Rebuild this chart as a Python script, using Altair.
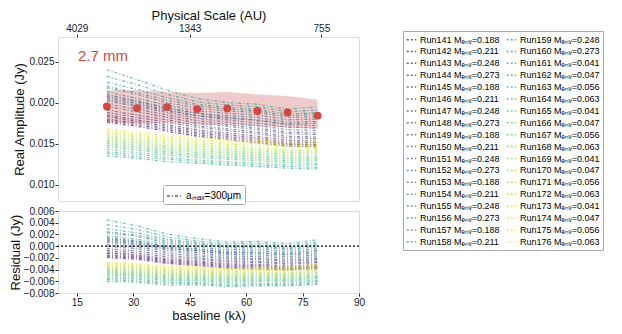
import altair as alt
import numpy as np
import pandas as pd

# ---------------- data ----------------
baseline = [23, 31, 39, 47, 55, 63, 71, 79]              # k-lambda
obs_amp = [0.01953, 0.01933, 0.01945, 0.01921, 0.01929, 0.01898, 0.01879, 0.01841]
band_hi = [0.02150, 0.02150, 0.02130, 0.02118, 0.02128, 0.02100, 0.02080, 0.02035]
band_lo = [0.01757, 0.01745, 0.01750, 0.01730, 0.01728, 0.01712, 0.01695, 0.01680]

runs = list(range(141, 177))
menv = (["0.188", "0.211", "0.248", "0.273"] * 5) + (["0.041", "0.047", "0.056", "0.063"] * 4)

model = {
    141: [0.0176, 0.0171, 0.0165, 0.0159, 0.0155, 0.0151, 0.0147, 0.0146],
    142: [0.0178, 0.0173, 0.0167, 0.0161, 0.0157, 0.0153, 0.0149, 0.0148],
    143: [0.0180, 0.0175, 0.0169, 0.0163, 0.0159, 0.0155, 0.0150, 0.0149],
    144: [0.0183, 0.0177, 0.0171, 0.0165, 0.0161, 0.0157, 0.0152, 0.0151],
    145: [0.0185, 0.0179, 0.0173, 0.0167, 0.0163, 0.0159, 0.0154, 0.0153],
    146: [0.0188, 0.0182, 0.0176, 0.0170, 0.0166, 0.0162, 0.0157, 0.0156],
    147: [0.0191, 0.0185, 0.0179, 0.0172, 0.0168, 0.0164, 0.0159, 0.0158],
    148: [0.0195, 0.0189, 0.0182, 0.0175, 0.0171, 0.0167, 0.0162, 0.0161],
    149: [0.0198, 0.0192, 0.0185, 0.0178, 0.0173, 0.0169, 0.0164, 0.0163],
    150: [0.0202, 0.0195, 0.0188, 0.0181, 0.0176, 0.0172, 0.0167, 0.0166],
    151: [0.0206, 0.0199, 0.0191, 0.0184, 0.0179, 0.0175, 0.0170, 0.0169],
    152: [0.0210, 0.0202, 0.0194, 0.0187, 0.0182, 0.0178, 0.0173, 0.0172],
    153: [0.0204, 0.0197, 0.0190, 0.0184, 0.0181, 0.0179, 0.0174, 0.0175],
    154: [0.0208, 0.0201, 0.0193, 0.0187, 0.0184, 0.0182, 0.0176, 0.0177],
    155: [0.0213, 0.0205, 0.0197, 0.0190, 0.0187, 0.0185, 0.0179, 0.0180],
    156: [0.0218, 0.0210, 0.0200, 0.0193, 0.0190, 0.0188, 0.0182, 0.0183],
    157: [0.0220, 0.0212, 0.0203, 0.0196, 0.0192, 0.0190, 0.0184, 0.0186],
    158: [0.0225, 0.0216, 0.0206, 0.0198, 0.0194, 0.0192, 0.0186, 0.0188],
    159: [0.0232, 0.0222, 0.0210, 0.0201, 0.0197, 0.0195, 0.0189, 0.0191],
    160: [0.0240, 0.0228, 0.0215, 0.0205, 0.0200, 0.0198, 0.0192, 0.0195],
    161: [0.0135, 0.0132, 0.0128, 0.0126, 0.0124, 0.0122, 0.0120, 0.0119],
    162: [0.0138, 0.0134, 0.0131, 0.0128, 0.0126, 0.0124, 0.0122, 0.0121],
    163: [0.0140, 0.0137, 0.0133, 0.0130, 0.0128, 0.0126, 0.0124, 0.0124],
    164: [0.0143, 0.0139, 0.0136, 0.0133, 0.0131, 0.0129, 0.0127, 0.0126],
    165: [0.0146, 0.0142, 0.0138, 0.0135, 0.0133, 0.0131, 0.0129, 0.0129],
    166: [0.0148, 0.0144, 0.0140, 0.0137, 0.0135, 0.0133, 0.0131, 0.0131],
    167: [0.0150, 0.0146, 0.0142, 0.0139, 0.0137, 0.0135, 0.0133, 0.0133],
    168: [0.0152, 0.0148, 0.0144, 0.0141, 0.0139, 0.0137, 0.0135, 0.0135],
    169: [0.0154, 0.0150, 0.0146, 0.0143, 0.0141, 0.0139, 0.0137, 0.0138],
    170: [0.0156, 0.0152, 0.0148, 0.0145, 0.0143, 0.0141, 0.0139, 0.0140],
    171: [0.0158, 0.0154, 0.0150, 0.0147, 0.0145, 0.0143, 0.0141, 0.0142],
    172: [0.0160, 0.0156, 0.0152, 0.0149, 0.0147, 0.0145, 0.0143, 0.0144],
    173: [0.0162, 0.0158, 0.0154, 0.0151, 0.0149, 0.0148, 0.0146, 0.0147],
    174: [0.0164, 0.0160, 0.0156, 0.0153, 0.0151, 0.0150, 0.0148, 0.0149],
    175: [0.0166, 0.0162, 0.0158, 0.0155, 0.0153, 0.0152, 0.0150, 0.0151],
    176: [0.0168, 0.0164, 0.0160, 0.0157, 0.0155, 0.0154, 0.0152, 0.0153],
}

top_tick_kl = [15, 45, 80]
top_tick_au = ["4029", "1343", "755"]
x_ticks = [15, 30, 45, 60, 75, 90]
y_ticks_top = [0.010, 0.015, 0.020, 0.025]
y_ticks_res = [-0.008, -0.006, -0.004, -0.002, 0.000, 0.002, 0.004, 0.006]
band_label = ["2.7 mm"]
band_label_pos = [15.3, 0.0257]
amax_label = "a\u2098\u2090\u2093=300\u03bcm"

# ---------------- styling helpers ----------------
viridis = ["#440154", "#471365", "#482475", "#463480", "#414487", "#3b528b", "#355f8d",
           "#2f6c8e", "#2a788e", "#25848e", "#21918c", "#1e9c89", "#22a884", "#2fb47c",
           "#44bf70", "#5ec962", "#7ad151", "#9bd93c", "#bddf26", "#dfe318", "#fde725"]
vrgb = np.array([[int(h[i:i + 2], 16) for i in (1, 3, 5)] for h in viridis], float)
def cmap(t):
    p = t * (len(viridis) - 1)
    i = min(int(p), len(viridis) - 2)
    f = p - i
    c = vrgb[i] * (1 - f) + vrgb[i + 1] * f
    return "#%02x%02x%02x" % tuple(int(round(v)) for v in c)

labels = [f"Run{r} M\u2091\u2099\u1d65={m}" for r, m in zip(runs, menv)]
colors = [cmap(i / (len(runs) - 1)) for i in range(len(runs))]

rows = []
for r, lab in zip(runs, labels):
    for x, a, o in zip(baseline, model[r], obs_amp):
        rows.append({"label": lab, "baseline": x, "amp": a, "resid": a - o, "amax": amax_label})
mdf = pd.DataFrame(rows)
odf = pd.DataFrame({"baseline": baseline, "amp": obs_amp, "hi": band_hi, "lo": band_lo})
tdf = pd.DataFrame({"x": [band_label_pos[0]], "y": [band_label_pos[1]], "t": band_label})
zdf = pd.DataFrame({"z": [0.0]})

W = 301
H_TOP, H_RES = 164, 82
FONT = "Liberation Sans"
xs = alt.Scale(domain=[10, 90], nice=False, zero=False)
ys_top = alt.Scale(domain=[0.008, 0.028], nice=False, zero=False)
ys_res = alt.Scale(domain=[-0.008, 0.006], nice=False, zero=False)
DASH = [3, 2, 1, 2]

color_enc = alt.Color(
    "label:N", scale=alt.Scale(domain=labels, range=colors),
    legend=alt.Legend(title=None, orient="none", legendX=345, legendY=-6, columns=2,
                      symbolLimit=60, symbolType="stroke", symbolDash=[2, 2],
                      symbolStrokeWidth=1.5, symbolSize=90, labelFontSize=9,
                      labelFont=FONT, rowPadding=0.9, columnPadding=3, padding=3,
                      strokeColor="#aaaaaa", fillColor="white", labelLimit=140,
                      symbolOpacity=0.7, labelOffset=3))
dash_enc = alt.StrokeDash(
    "amax:N", scale=alt.Scale(domain=[amax_label], range=[DASH]),
    legend=alt.Legend(title=None, orient="none", legendX=105, legendY=148,
                      symbolType="stroke", symbolStrokeColor="black", symbolStrokeWidth=1.5,
                      symbolSize=200, labelFontSize=10, labelFont=FONT, padding=3,
                      strokeColor="#aaaaaa", fillColor="white", cornerRadius=2))

label_expr = " : ".join(f"datum.value == {k} ? '{v}'" for k, v in zip(top_tick_kl[:-1], top_tick_au[:-1])) + f" : '{top_tick_au[-1]}'"

def ax(**kw):
    base = dict(titleFontSize=13, titleFont=FONT, titleFontWeight="normal", labelFontSize=10,
                labelFont=FONT, tickSize=3, labelPadding=1, grid=False, domain=False,
                tickColor="#333", labelColor="#222", titleColor="#111", labelFlush=False)
    base.update(kw)
    return alt.Axis(**base)

band = alt.Chart(odf).mark_area(color="#cd5c5c", opacity=0.32).encode(
    x=alt.X("baseline:Q", scale=xs, axis=None),
    y=alt.Y("hi:Q", scale=ys_top, axis=None), y2="lo:Q")
lines_top = alt.Chart(mdf).mark_line(strokeWidth=1.2, opacity=0.62).encode(
    x=alt.X("baseline:Q", scale=xs, axis=None),
    y=alt.Y("amp:Q", scale=ys_top, axis=None),
    color=color_enc, strokeDash=dash_enc, detail="label:N")
pts = alt.Chart(odf).mark_circle(size=62, color="#d1493f", opacity=1).encode(
    x=alt.X("baseline:Q", scale=xs,
            axis=ax(orient="top", values=top_tick_kl, labelExpr=label_expr,
                    title="Physical Scale (AU)", titlePadding=1)),
    y=alt.Y("amp:Q", scale=ys_top,
            axis=ax(values=y_ticks_top, format=".3f", title="Real Amplitude (Jy)",
                    titlePadding=2)))
txt = alt.Chart(tdf).mark_text(align="left", baseline="middle", fontSize=15, font=FONT,
                               color="#d1493f").encode(
    x=alt.X("x:Q", scale=xs, axis=None), y=alt.Y("y:Q", scale=ys_top, axis=None), text="t:N")

top = alt.layer(band, lines_top, pts, txt).resolve_axis(x="independent", y="independent").properties(
    width=W, height=H_TOP)

lines_res = alt.Chart(mdf).mark_line(strokeWidth=1.2, opacity=0.62).encode(
    x=alt.X("baseline:Q", scale=xs,
            axis=ax(values=x_ticks, title="baseline (k\u03bb)", titlePadding=2)),
    y=alt.Y("resid:Q", scale=ys_res,
            axis=ax(values=y_ticks_res, format=".3f", title="Residual (Jy)", titlePadding=1)),
    color=color_enc, strokeDash=dash_enc, detail="label:N")
zero = alt.Chart(zdf).mark_rule(color="black", strokeDash=[2, 2], strokeWidth=1.3).encode(
    y=alt.Y("z:Q", scale=ys_res, axis=None))
bottom = alt.layer(lines_res, zero).resolve_axis(x="independent", y="independent").properties(
    width=W, height=H_RES)

chart = alt.vconcat(top, bottom, spacing=3).properties(padding=0).configure_view(
    fill="#d3d3d3", stroke="#222222", strokeWidth=1).configure(background="white")

chart.save("out.html", embed_options={"renderer": "svg", "actions": False})
